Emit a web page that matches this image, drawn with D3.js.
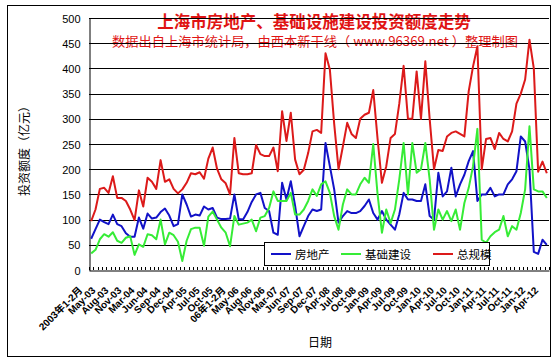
<!DOCTYPE html>
<html>
<head>
<meta charset="utf-8">
<script src="https://cdn.jsdelivr.net/npm/d3@7"></script>
<style>
  body { margin: 0; background: #fff; }
  svg { display: block; }
  text { font-family: "Liberation Sans", Arial, "Noto Sans CJK SC", sans-serif; }
  .cjk { font-family: "Noto Sans CJK SC", "Liberation Sans", sans-serif; }
</style>
</head>
<body>
<svg id="chart" width="557" height="363"></svg>
<script>
// 亿元, one value per reported period (2003年1-2月 ... Apr-12)
var realEstate = [
  62, 81, 100, 95, 91, 110, 91, 87, 73, 66, 66, 104, 82, 112, 102, 104, 115, 122, 108, 87,
  91, 150, 130, 106, 110, 108, 126, 120, 123, 104, 101, 101, 102, 150, 101, 100, 115, 135, 150, 153,
  123, 117, 74, 70, 173, 140, 176, 127, 67, 87, 107, 120, 117, 120, 252, 206, 160, 94, 107, 117,
  113, 113, 117, 127, 140, 113, 100, 117, 100, 90, 80, 110, 153, 140, 140, 137, 137, 170, 107, 100,
  193, 146, 156, 203, 146, 170, 189, 216, 236, 137, 150, 150, 163, 146, 150, 150, 170, 180, 196, 265,
  255, 200, 36, 32, 60, 50
];
var infrastructure = [
  33, 40, 61, 71, 66, 75, 58, 54, 64, 67, 30, 51, 46, 71, 69, 61, 100, 51, 74, 69,
  56, 18, 58, 81, 84, 84, 48, 106, 116, 100, 84, 74, 47, 107, 90, 92, 94, 100, 77, 104,
  107, 123, 156, 137, 137, 137, 153, 110, 110, 120, 137, 160, 147, 170, 176, 153, 107, 80, 130, 160,
  150, 150, 170, 183, 173, 250, 150, 74, 120, 93, 120, 180, 252, 150, 252, 193, 200, 252, 180, 80,
  120, 100, 117, 97, 120, 80, 133, 163, 206, 280, 60, 54, 67, 75, 80, 107, 67, 87, 80, 113,
  160, 285, 160, 156, 156, 143
];
var totalScale = [
  97, 120, 161, 163, 153, 186, 143, 143, 137, 120, 99, 158, 126, 183, 175, 161, 218, 175, 180, 161,
  152, 160, 173, 192, 190, 194, 181, 221, 243, 201, 180, 172, 150, 262, 192, 190, 190, 192, 248, 230,
  226, 226, 243, 196, 315, 256, 312, 219, 190, 199, 232, 275, 278, 272, 430, 398, 290, 200, 245, 292,
  270, 262, 300, 308, 312, 357, 260, 173, 206, 262, 270, 330, 405, 300, 300, 394, 300, 414, 300, 200,
  238, 236, 265, 272, 275, 270, 265, 355, 404, 444, 200, 260, 262, 240, 272, 260, 255, 275, 330, 350,
  378, 457, 400, 195, 215, 192
];
// one label every third period
var tickLabels = [
  "2003年1-2月", "May-03", "Aug-03", "Nov-03", "Mar-04", "Jun-04", "Sep-04", "Dec-04",
  "Apr-05", "Jul-05", "Oct-05", "06年1-2月", "May-06", "Aug-06", "Nov-06", "Mar-07",
  "Jun-07", "Sep-07", "Dec-07", "Apr-08", "Jul-08", "Oct-08", "Jan-09", "Apr-09",
  "Jul-09", "Oct-09", "Jan-10", "Apr-10", "Jul-10", "Oct-10", "Jan-11", "Apr-11",
  "Jul-11", "Oct-11", "Jan-12", "Apr-12"
];
var yTicks = d3.range(0, 501, 50);
var seriesNames = ["房地产", "基础建设", "总规模"];
var seriesColors = ["#1212c8", "#36ec36", "#dc1a1a"];
var labelStep = 3;

var svg = d3.select("#chart");
var plot = { left: 89, right: 549, top: 18, bottom: 270 };

var x = d3.scaleBand()
  .domain(d3.range(realEstate.length))
  .range([plot.left, plot.right]);
var y = d3.scaleLinear().domain([0, 500]).range([plot.bottom, plot.top]);
var cx = function (i) { return x(i) + x.bandwidth() / 2; };

// outer frame
svg.append("rect")
  .attr("x", 7.5).attr("y", 5.5)
  .attr("width", 543).attr("height", 351)
  .attr("fill", "#fff").attr("stroke", "#000");

// titles (gridlines are drawn over them, as in the original)
svg.append("text").attr("class", "cjk")
  .attr("x", 314).attr("y", 28)
  .attr("text-anchor", "middle")
  .attr("font-size", 16.5).attr("font-weight", "bold")
  .attr("fill", "#e01414")
  .text("上海市房地产、基础设施建设投资额度走势");

svg.append("text").attr("class", "cjk")
  .attr("x", 112).attr("y", 46)
  .attr("font-size", 13)
  .attr("fill", "#e01414")
  .attr("textLength", 406).attr("lengthAdjust", "spacingAndGlyphs")
  .text("数据出自上海市统计局，由西本新干线（ www.96369.net ）整理制图");

// horizontal gridlines
svg.append("g").selectAll("line")
  .data(yTicks.filter(function (v) { return v > 0; }))
  .enter().append("line")
  .attr("x1", plot.left).attr("x2", plot.right)
  .attr("y1", function (v) { return Math.round(y(v)) + 0.5; })
  .attr("y2", function (v) { return Math.round(y(v)) + 0.5; })
  .attr("stroke", "#000");

// y axis
var yAxis = svg.append("g")
  .attr("transform", "translate(" + (plot.left + 0.5) + ",0.5)")
  .call(d3.axisLeft(y).tickValues(yTicks).tickSize(0).tickSizeOuter(0).tickPadding(9));
yAxis.select(".domain").attr("stroke", "#000");
yAxis.selectAll("text").attr("font-size", 11).attr("fill", "#000")
  .attr("font-family", "'Liberation Sans', Arial, sans-serif");

// x axis; labels are placed by hand below, one every third period
var xAxis = svg.append("g")
  .attr("transform", "translate(0," + (plot.bottom + 0.5) + ")")
  .call(d3.axisBottom(x).tickValues([]).tickSizeOuter(0));
xAxis.select(".domain").attr("stroke", "#000");

svg.append("g").selectAll("text")
  .data(d3.range(0, realEstate.length, labelStep))
  .enter().append("text")
  .attr("transform", function (i) {
    return "translate(" + (cx(i) - 8) + "," + (plot.bottom + 21) + ") rotate(-45)";
  })
  .attr("text-anchor", "end")
  .attr("font-size", 10).attr("font-weight", "bold").attr("fill", "#000")
  .text(function (i) { return tickLabels[i / labelStep]; });

// small tick at each period boundary
svg.append("g").selectAll("line")
  .data(d3.range(realEstate.length + 1))
  .enter().append("line")
  .attr("x1", function (i) { return Math.round(plot.left + i * x.step()) + 0.5; })
  .attr("x2", function (i) { return Math.round(plot.left + i * x.step()) + 0.5; })
  .attr("y1", plot.bottom).attr("y2", plot.bottom - 3)
  .attr("stroke", "#000");

// axis titles
svg.append("text").attr("class", "cjk")
  .attr("transform", "translate(29,148) rotate(-90)")
  .attr("text-anchor", "middle")
  .attr("font-size", 12)
  .text("投资额度（亿元）");

svg.append("text").attr("class", "cjk")
  .attr("x", 320).attr("y", 347)
  .attr("text-anchor", "middle")
  .attr("font-size", 12)
  .text("日期");

// series lines
var line = d3.line()
  .x(function (d, i) { return cx(i); })
  .y(function (d) { return y(d); });

var seriesData = [realEstate, infrastructure, totalScale];
svg.append("g").selectAll("path")
  .data(seriesData)
  .enter().append("path")
  .attr("d", line)
  .attr("fill", "none")
  .attr("stroke", function (d, i) { return seriesColors[i]; })
  .attr("stroke-width", 2)
  .attr("stroke-linejoin", "round");

// legend
var legend = svg.append("g");
legend.append("rect")
  .attr("x", 264.5).attr("y", 242.5)
  .attr("width", 225).attr("height", 23)
  .attr("fill", "#fff").attr("stroke", "#000");

var legendX = [271, 341, 433];
var item = legend.selectAll("g.item")
  .data(seriesNames)
  .enter().append("g")
  .attr("transform", function (d, i) { return "translate(" + legendX[i] + ",254)"; });
item.append("line")
  .attr("x1", 0).attr("x2", 20)
  .attr("stroke", function (d, i) { return seriesColors[i]; })
  .attr("stroke-width", 2);
item.append("text").attr("class", "cjk")
  .attr("x", 24).attr("y", 4.5)
  .attr("font-size", 11.5)
  .text(function (d) { return d; });
</script>
</body>
</html>
